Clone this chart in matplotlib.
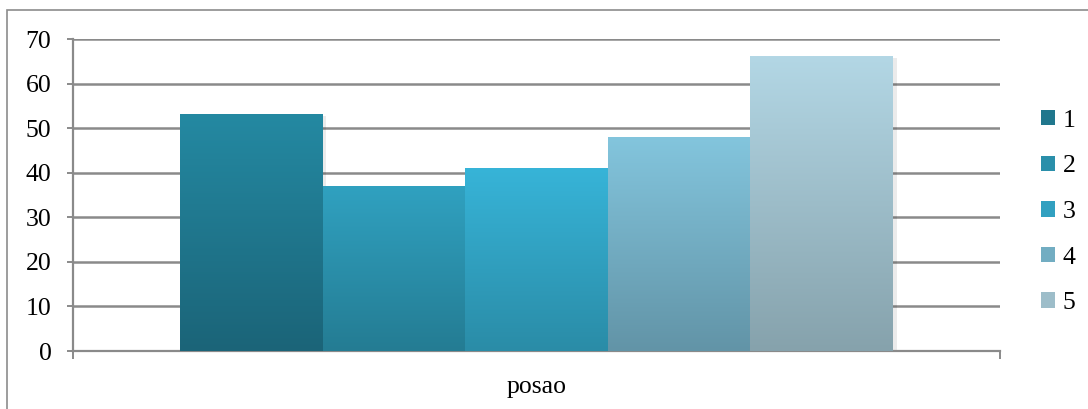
import numpy as np
import matplotlib
matplotlib.use('Agg')
import matplotlib.pyplot as plt
from matplotlib.patches import Rectangle, Patch

series = ['1', '2', '3', '4', '5']
values = [53, 37, 41, 48, 66]
category = 'posao'

# top / bottom colours of each bar gradient
tops = ['#2489a2', '#30a1c0', '#37b4d8', '#83c5dd', '#b3d7e5']
bottoms = ['#1b6478', '#247c93', '#2a8ca7', '#6294a7', '#86a2ac']

plt.rcParams['font.family'] = ['Liberation Serif', 'DejaVu Serif']
grid_col = '#8a8a8a'

fig = plt.figure(figsize=(10.88, 4.09), dpi=100)
ax = fig.add_axes([73 / 1088, 1 - 351 / 409, 927 / 1088, 312 / 409])

width = 0.769 / len(values)
offsets = (np.arange(len(values)) - 2) * width
bars = ax.bar(offsets, values, width=width, color='none', zorder=3)


def gradient(c_top, c_bot, n=256):
    a = np.array(matplotlib.colors.to_rgb(c_top))
    b = np.array(matplotlib.colors.to_rgb(c_bot))
    t = np.linspace(0, 1, n)[:, None]
    return (a * (1 - t) + b * t)[:, None, :]


for bar, ct, cb in zip(bars, tops, bottoms):
    x, w, h = bar.get_x(), bar.get_width(), bar.get_height()
    # soft shadow on the right
    ax.add_patch(Rectangle((x + 0.004, -0.3), w, h, color='#000000', alpha=0.08,
                           zorder=2, lw=0))
    ax.imshow(gradient(ct, cb), extent=[x, x + w, 0, h], aspect='auto',
              zorder=3, interpolation='bilinear')

ax.set_xlim(-0.5, 0.5)
ax.set_ylim(0, 70)
ax.set_yticks(range(0, 71, 10))
ax.yaxis.grid(True, color=grid_col, lw=1.8, zorder=1)
ax.set_axisbelow(True)
ax.tick_params(axis='y', length=4.5, width=1.4, color=grid_col, labelsize=18.5, pad=11)

ax.set_xticks([0])
ax.set_xticklabels([category])
ax.set_xticks([-0.5, 0.5], minor=True)
ax.tick_params(axis='x', which='major', length=0, labelsize=18.5, pad=18)
ax.tick_params(axis='x', which='minor', length=5.5, width=1.4, color=grid_col)

for s in ['top', 'right']:
    ax.spines[s].set_visible(False)
for s in ['left', 'bottom']:
    ax.spines[s].set_color(grid_col)
    ax.spines[s].set_linewidth(1.6)

handles = [Patch(facecolor=(np.array(matplotlib.colors.to_rgb(ct)) +
                            np.array(matplotlib.colors.to_rgb(cb))) / 2)
           for ct, cb in zip(tops, bottoms)]
fig.legend(handles, series, loc='center left', bbox_to_anchor=(1023 / 1088, 1 - 212 / 409),
           frameon=False, fontsize=18.5, handlelength=0.55, handleheight=0.55,
           handletextpad=0.3, labelspacing=0.92, borderpad=0.2)

fig.patches.append(Rectangle((7 / 1088, -0.1), 1.2, 1 - 10 / 409 + 0.1,
                             transform=fig.transFigure, fill=False,
                             edgecolor='#8c8c8c', lw=1.2))

fig.savefig('out.png', dpi=100)
